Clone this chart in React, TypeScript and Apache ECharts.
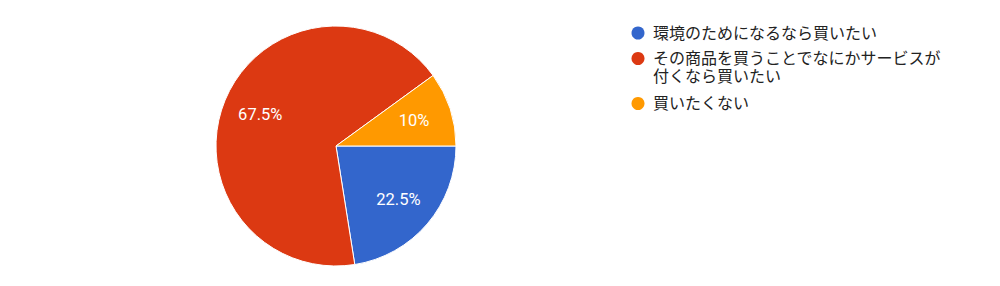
import React, { useEffect, useRef } from "react";
import * as echarts from "echarts";

const categories = [
  "環境のためになるなら買いたい",
  "その商品を買うことでなにかサービスが付くなら買いたい",
  "買いたくない",
];
const legendLines = [
  ["環境のためになるなら買いたい"],
  ["その商品を買うことでなにかサービスが", "付くなら買いたい"],
  ["買いたくない"],
];
const values = [22.5, 67.5, 10];
const colors = ["#3366cc", "#dc3912", "#ff9900"];

export default function App() {
  const ref = useRef<HTMLDivElement>(null);
  useEffect(() => {
    document.body.style.margin = "0";
    const chart = echarts.init(ref.current!, null, { renderer: "svg" });
    const font = "Roboto, 'Noto Sans CJK JP', sans-serif";

    // custom legend built from the category arrays
    const legendX = 638;
    const textX = 653;
    const lineH = 18;
    const itemGap = 25.5;
    const legendEls: any[] = [];
    let y = 33;
    legendLines.forEach((lines, i) => {
      legendEls.push({
        type: "circle",
        shape: { cx: legendX, cy: y, r: 6.5 },
        style: { fill: colors[i] },
        silent: true,
      });
      lines.forEach((ln, j) => {
        legendEls.push({
          type: "text",
          x: textX,
          y: y + j * lineH,
          style: {
            text: ln,
            fill: "#222222",
            font: `16px ${font}`,
            verticalAlign: "middle",
            align: "left",
          },
          silent: true,
        });
      });
      y += (lines.length - 1) * lineH + (i === 0 ? itemGap : 27);
    });

    chart.setOption({
      animation: false,
      backgroundColor: "#ffffff",
      graphic: legendEls,
      series: [
        {
          type: "pie",
          center: [336, 146],
          radius: 120,
          startAngle: 0,
          clockwise: true,
          silent: true,
          label: { show: false },
          labelLine: { show: false },
          itemStyle: { borderColor: "#ffffff", borderWidth: 1 },
          data: categories.map((name, i) => ({
            name,
            value: values[i],
            itemStyle: { color: colors[i] },
          })),
        },
        {
          type: "pie",
          center: [336, 146],
          radius: [38, 120],
          startAngle: 0,
          clockwise: true,
          silent: true,
          itemStyle: { color: "transparent", borderWidth: 0 },
          label: {
            show: true,
            position: "inside",
            formatter: (p: any) => `${p.value}%`,
            color: "#ffffff",
            fontFamily: font,
            fontSize: 16.5,
          },
          labelLine: { show: false },
          data: categories.map((name, i) => ({ name, value: values[i] })),
        },
      ],
    });
    return () => chart.dispose();
  }, []);
  return <div ref={ref} style={{ width: 1000, height: 286 }} />;
}
